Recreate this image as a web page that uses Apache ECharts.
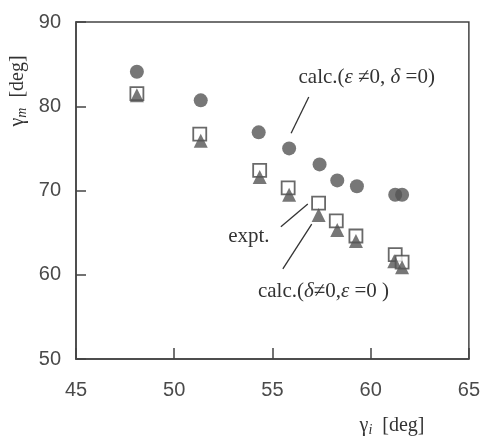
<!DOCTYPE html>
<html>
<head>
<meta charset="utf-8">
<script src="https://cdn.jsdelivr.net/npm/echarts@6/dist/echarts.min.js"></script>
<style>
  html, body { margin: 0; padding: 0; background: #fff; }
  #myChart { width: 483px; height: 437px; }
</style>
</head>
<body>
<div id="myChart"></div>
<script>
// gamma_i values (x) and gamma_m values (y)
const calcEpsX = [48.1, 51.35, 54.3, 55.85, 57.4, 58.3, 59.3, 61.25, 61.6];
const calcEpsY = [84.1, 80.7, 76.9, 75.0, 73.1, 71.2, 70.5, 69.5, 69.5];

const exptX = [48.1, 51.3, 54.35, 55.8, 57.35, 58.25, 59.25, 61.25, 61.6];
const exptY = [81.5, 76.7, 72.4, 70.3, 68.5, 66.4, 64.6, 62.4, 61.5];

const calcDeltaX = [48.1, 51.35, 54.35, 55.85, 57.35, 58.3, 59.25, 61.2, 61.6];
const calcDeltaY = [81.3, 75.9, 71.6, 69.5, 67.1, 65.3, 64.0, 61.6, 60.9];

const xTicks = [45, 50, 55, 60, 65];
const yTicks = [50, 60, 70, 80, 90];

function pairs(xs, ys) {
  return xs.map((x, i) => [x, ys[i]]);
}

let myChart = echarts.init(document.getElementById("myChart"));

const axisColor = "#444";
const tickFont = { fontFamily: "Liberation Sans", fontSize: 20, color: "#4a4a4a" };

myChart.setOption({
  animation: false,
  grid: {
    left: 76, right: 12, top: 22, bottom: 78,
    show: true,
    borderColor: axisColor,
    borderWidth: 1.5,
    backgroundColor: "transparent"
  },
  xAxis: {
    type: "value",
    min: xTicks[0],
    max: xTicks[xTicks.length - 1],
    interval: 5,
    splitLine: { show: false },
    axisLine: { lineStyle: { color: axisColor, width: 1.5 } },
    axisTick: { inside: true, length: 11, lineStyle: { color: axisColor, width: 1.5 } },
    axisLabel: Object.assign({ margin: 21 }, tickFont)
  },
  yAxis: {
    type: "value",
    min: yTicks[0],
    max: yTicks[yTicks.length - 1],
    interval: 10,
    splitLine: { show: false },
    axisLine: { lineStyle: { color: axisColor, width: 1.5 } },
    axisTick: { inside: true, length: 10, lineStyle: { color: axisColor, width: 1.5 } },
    axisLabel: Object.assign({ margin: 15 }, tickFont)
  },
  series: [
    {
      name: "calc.(ε≠0, δ=0)",
      type: "scatter",
      symbol: "circle",
      symbolSize: 14,
      data: pairs(calcEpsX, calcEpsY),
      itemStyle: { color: "#555" },
      z: 2
    },
    {
      name: "expt.",
      type: "scatter",
      symbol: "rect",
      symbolSize: 13,
      data: pairs(exptX, exptY),
      itemStyle: { color: "#fff", borderColor: "#444", borderWidth: 1.8 },
      z: 3
    },
    {
      name: "calc.(δ≠0,ε=0 )",
      type: "scatter",
      symbol: "triangle",
      symbolSize: 14,
      data: pairs(calcDeltaX, calcDeltaY),
      itemStyle: { color: "#555" },
      z: 4
    }
  ]
});

const serif = "'Liberation Serif', 'DejaVu Serif', serif";
const rich = {
  n: { fontFamily: serif, fontSize: 21, fill: "#333" },
  i: { fontFamily: serif, fontSize: 21, fontStyle: "italic", fill: "#333" },
  g: { fontFamily: serif, fontSize: 20, fill: "#333" },
  s: { fontFamily: serif, fontSize: 14, fontStyle: "italic", fill: "#333", padding: [8, 0, 0, 0] }
};

// annotations (leader lines + labels), given in data coordinates
const notes = [
  { text: "{n|calc.(}{i|ε}{n| ≠0, }{i|δ}{n| =0)}", at: [59.8, 83.4], line: [[56.85, 81.1], [55.95, 76.8]] },
  { text: "{n|expt.}", at: [53.8, 64.6], line: [[55.43, 65.7], [56.8, 68.4]] },
  { text: "{n|calc.(}{i|δ}{n|≠0,}{i|ε}{n| =0 )}", at: [57.6, 58.0], line: [[55.53, 60.7], [57.0, 66.0]] }
];

const graphic = [];
notes.forEach(n => {
  const p = myChart.convertToPixel({ gridIndex: 0 }, n.at);
  const a = myChart.convertToPixel({ gridIndex: 0 }, n.line[0]);
  const b = myChart.convertToPixel({ gridIndex: 0 }, n.line[1]);
  graphic.push({
    type: "text", x: p[0], y: p[1],
    style: { text: n.text, rich: rich, align: "center", verticalAlign: "middle" }
  });
  graphic.push({
    type: "line",
    shape: { x1: a[0], y1: a[1], x2: b[0], y2: b[1] },
    style: { stroke: "#333", lineWidth: 1.3 }
  });
});

// axis titles with subscripts
graphic.push({
  type: "text", x: 18, y: 91, rotation: Math.PI / 2,
  style: { text: "{g|γ}{s|m}{g|  [deg]}", rich: rich, align: "center", verticalAlign: "middle" }
});
graphic.push({
  type: "text", x: 392, y: 426,
  style: { text: "{g|γ}{s|i}{g|  [deg]}", rich: rich, align: "center", verticalAlign: "middle" }
});

myChart.setOption({ graphic: graphic });
</script>
</body>
</html>
